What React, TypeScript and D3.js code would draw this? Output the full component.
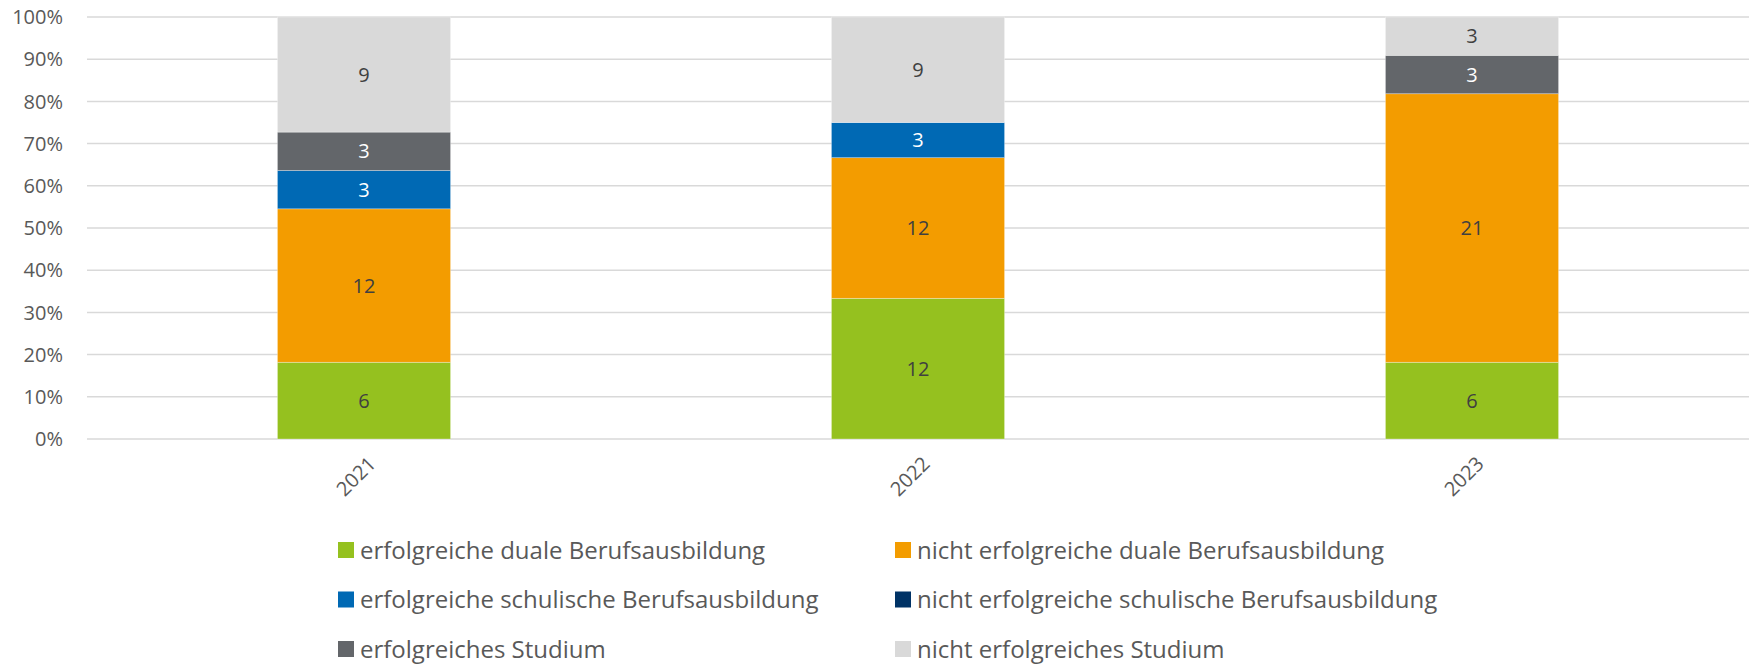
import React, { useEffect, useRef } from "react";
import * as d3 from "d3";

const years = ["2021", "2022", "2023"];
const seriesNames = [
  "erfolgreiche duale Berufsausbildung",
  "nicht erfolgreiche duale Berufsausbildung",
  "erfolgreiche schulische Berufsausbildung",
  "nicht erfolgreiche schulische Berufsausbildung",
  "erfolgreiches Studium",
  "nicht erfolgreiches Studium",
];
const seriesColors = ["#95C11F", "#F39C00", "#0069B4", "#003366", "#63666A", "#D9D9D9"];
const labelColors = ["#404040", "#404040", "#FFFFFF", "#FFFFFF", "#FFFFFF", "#404040"];

// counts per series, one entry per year
const dualOk = [6, 12, 6];
const dualFail = [12, 12, 21];
const schoolOk = [3, 3, 0];
const schoolFail = [0, 0, 0];
const studyOk = [3, 0, 3];
const studyFail = [9, 9, 3];

const yTicks = [0, 0.1, 0.2, 0.3, 0.4, 0.5, 0.6, 0.7, 0.8, 0.9, 1];

export default function App() {
  const svgRef = useRef<SVGSVGElement>(null);

  useEffect(() => {
    document.body.style.margin = "0";
    const width = 1750;
    const height = 665;
    const left = 87;
    const right = 1749;
    const top = 17;
    const bottom = 439;
    const font = "'Open Sans', sans-serif";

    const svg = d3.select(svgRef.current)
      .attr("width", width)
      .attr("height", height)
      .style("display", "block");
    svg.selectAll("*").remove();

    const series = [dualOk, dualFail, schoolOk, schoolFail, studyOk, studyFail];
    const rows = years.map((y, i) => {
      const row: any = { year: y };
      seriesNames.forEach((n, k) => (row[n] = series[k][i]));
      return row;
    });
    // normalise to shares
    const stacked = d3.stack<any>()
      .keys(seriesNames)
      .offset(d3.stackOffsetExpand)(rows);

    const x = d3.scaleBand()
      .domain(years)
      .range([left, right])
      .paddingInner(0.6875)
      .paddingOuter(0.34375);

    const y = d3.scaleLinear().domain([0, 1]).range([bottom, top]);

    // grid
    svg.append("g")
      .selectAll("line")
      .data(yTicks)
      .join("line")
      .attr("x1", left)
      .attr("x2", right)
      .attr("y1", d => y(d))
      .attr("y2", d => y(d))
      .attr("stroke", "#D9D9D9")
      .attr("stroke-width", 1.5);

    svg.append("g")
      .selectAll("text")
      .data(yTicks)
      .join("text")
      .attr("x", 63)
      .attr("y", d => y(d))
      .attr("dy", "0.36em")
      .attr("text-anchor", "end")
      .attr("font-family", font)
      .attr("font-size", 20)
      .attr("fill", "#595959")
      .text(d => d3.format(".0%")(d));

    // bars
    const layers = svg.append("g")
      .selectAll("g")
      .data(stacked)
      .join("g")
      .attr("fill", (d, i) => seriesColors[i]);

    layers.selectAll("rect")
      .data(d => d.filter(s => s[1] - s[0] > 0))
      .join("rect")
      .attr("x", d => x(d.data.year)!)
      .attr("y", d => y(d[1]))
      .attr("width", x.bandwidth())
      .attr("height", d => y(d[0]) - y(d[1]))
      .attr("stroke", "#FFFFFF")
      .attr("stroke-opacity", 0.4)
      .attr("stroke-width", 0.75);

    // value labels
    stacked.forEach((layer, i) => {
      svg.append("g")
        .selectAll("text")
        .data(layer.filter(s => s[1] - s[0] > 0))
        .join("text")
        .attr("x", d => x(d.data.year)! + x.bandwidth() / 2)
        .attr("y", d => (y(d[0]) + y(d[1])) / 2)
        .attr("dy", "0.36em")
        .attr("text-anchor", "middle")
        .attr("font-family", font)
        .attr("font-size", 20)
        .attr("fill", labelColors[i])
        .text(d => d.data[seriesNames[i]]);
    });

    // x axis labels
    svg.append("g")
      .selectAll("text")
      .data(years)
      .join("text")
      .attr("transform", d => `translate(${x(d)! + x.bandwidth() / 2 + 8}, ${bottom + 21}) rotate(-45)`)
      .attr("text-anchor", "end")
      .attr("dy", "0.36em")
      .attr("font-family", font)
      .attr("font-size", 20)
      .attr("fill", "#595959")
      .text(d => d);

    // legend
    const legend = svg.append("g")
      .selectAll("g")
      .data(seriesNames)
      .join("g")
      .attr("transform", (d, i) => `translate(${i % 2 === 0 ? 338 : 895}, ${550 + Math.floor(i / 2) * 49.5})`);

    legend.append("rect")
      .attr("x", 0)
      .attr("y", -8)
      .attr("width", 16)
      .attr("height", 16)
      .attr("fill", (d, i) => seriesColors[i]);

    legend.append("text")
      .attr("x", 22)
      .attr("dy", "0.36em")
      .attr("font-family", font)
      .attr("font-size", 24)
      .attr("fill", "#595959")
      .text(d => d);
  }, []);

  return (
    <div className="chart">
      <svg ref={svgRef}></svg>
    </div>
  );
}
